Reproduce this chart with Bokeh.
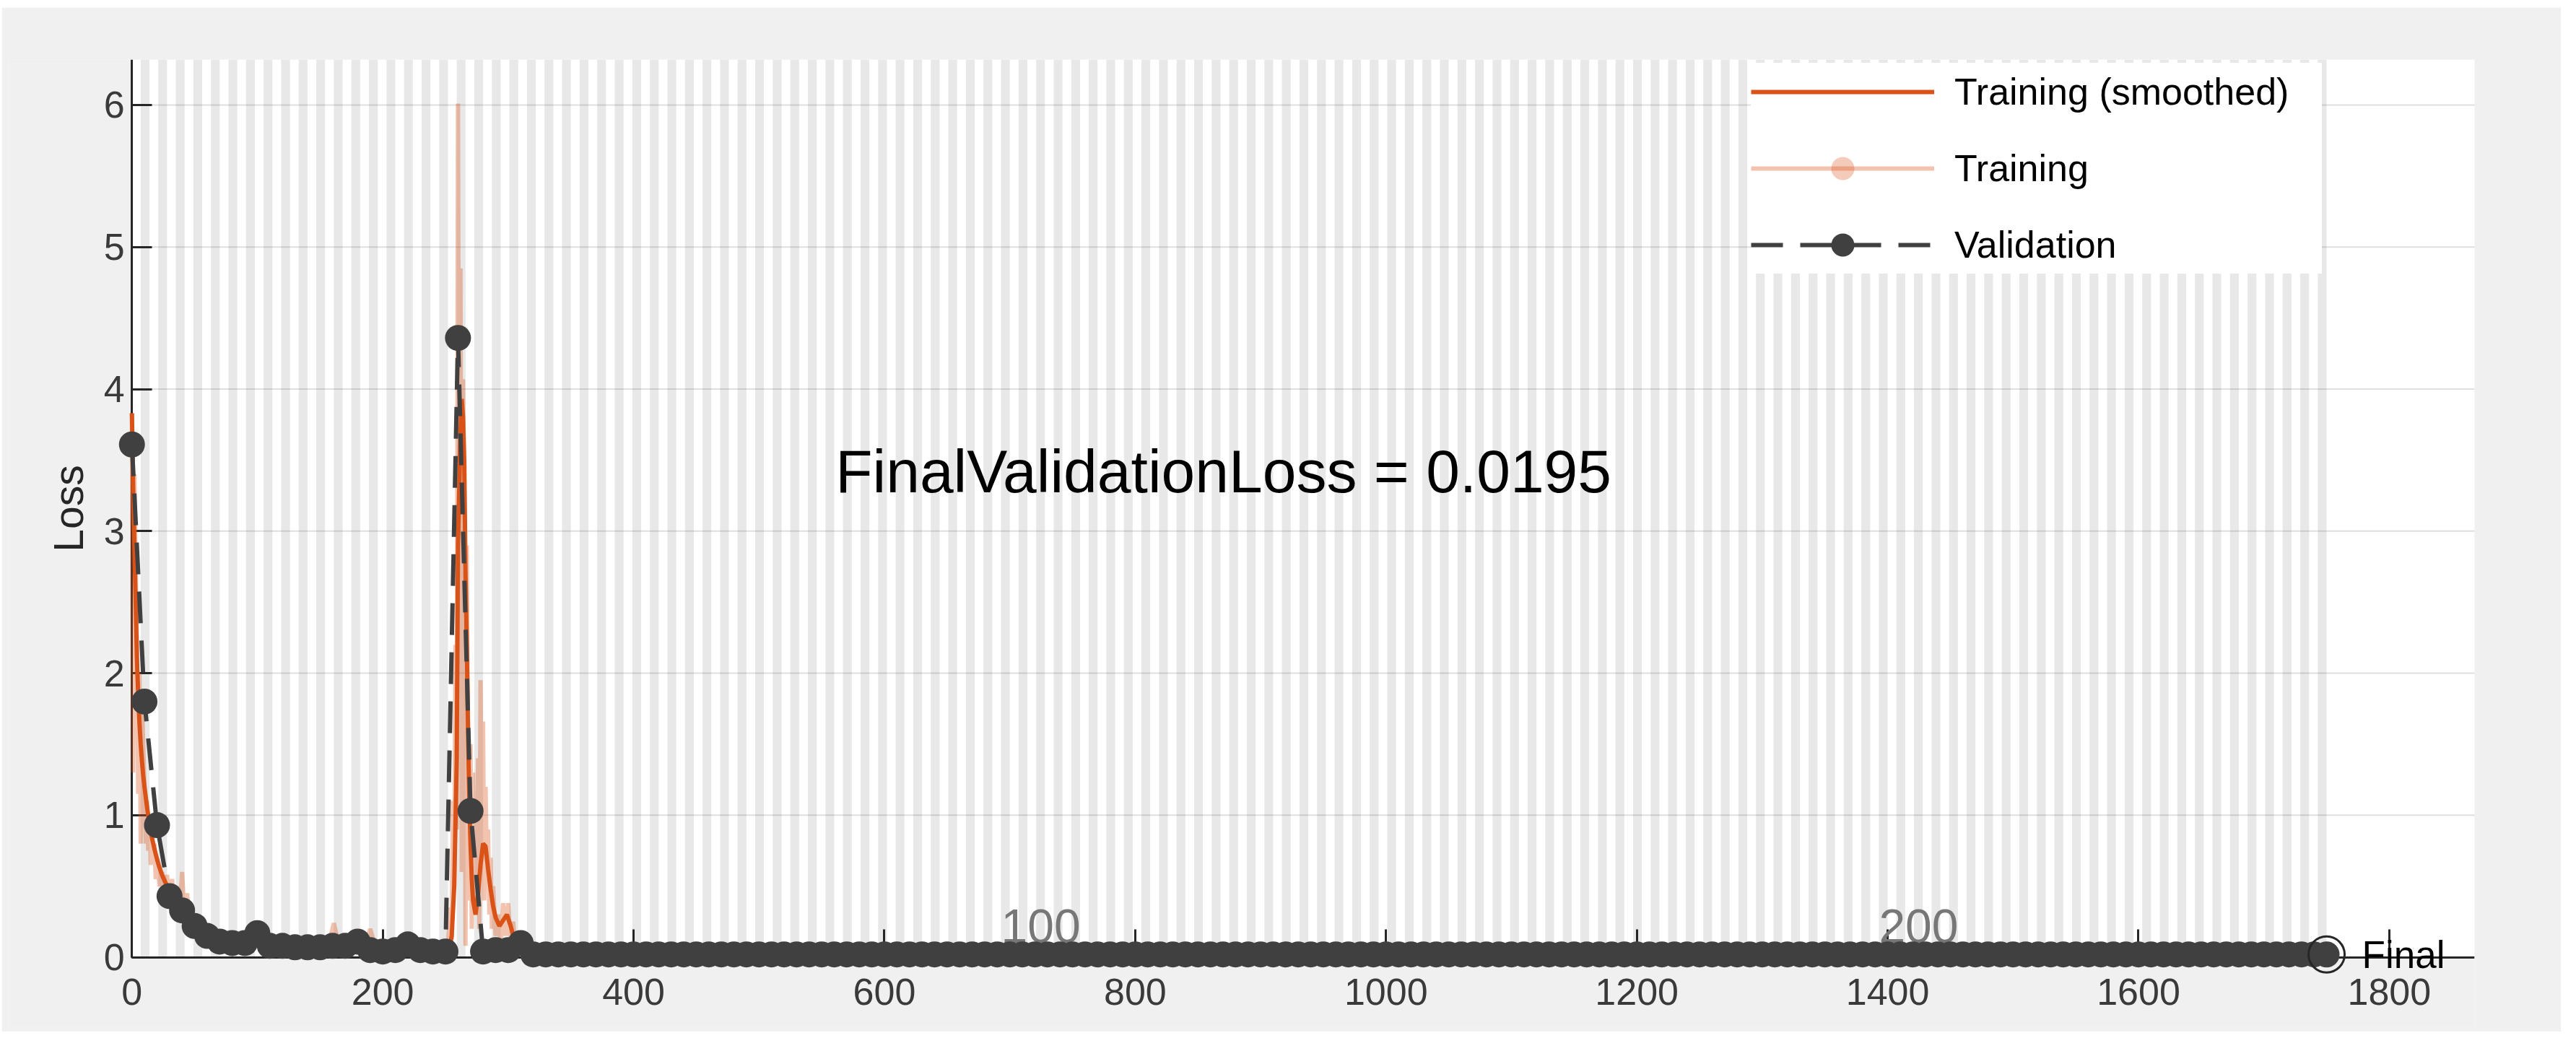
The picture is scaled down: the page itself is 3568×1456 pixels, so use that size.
from bokeh.plotting import figure
from bokeh.models import Range1d, FixedTicker, Legend, LegendItem
from bokeh.core.properties import value
from bokeh.embed import file_html
from bokeh.resources import INLINE

# ---------------- data ----------------
ITERS_PER_EPOCH = 7
NUM_EPOCHS = 250
VALIDATION_FREQUENCY = 10

# raw training loss (iteration, loss)
train_iter = [0, 1, 2, 3, 4, 5, 6, 7, 8, 9, 10, 11, 12, 13, 14, 15, 16, 17, 18, 19, 20,
              22, 24, 26, 28, 30, 32, 34, 36, 38, 40, 42, 44, 46, 48, 50, 52,
              55, 58, 62, 66, 70, 75, 80, 85, 90, 95, 100,
              110, 120, 130, 140, 150, 156, 161, 166, 175, 185, 190, 195, 205, 215, 225, 235, 245, 250,
              252, 254, 255, 256, 257, 258, 259, 260, 261, 262, 263, 264, 265, 266, 267, 268, 269, 270,
              271, 272, 273, 274, 275, 276, 277, 278, 279, 280, 281, 282, 283, 284, 285, 286, 287, 288,
              290, 292, 294, 296, 298, 300, 302, 304, 306, 308, 312, 320,
              400, 600, 800, 1000, 1200, 1400, 1600, 1750]
train_loss = [3.83, 1.30, 3.40, 2.75, 2.20, 1.15, 2.00, 0.80, 1.80, 1.50, 1.20, 0.80, 1.10, 0.75, 1.00, 0.65, 0.90, 0.70, 0.80, 0.55, 0.70,
              0.50, 0.60, 0.45, 0.58, 0.40, 0.55, 0.35, 0.50, 0.30, 0.60, 0.28, 0.45, 0.22, 0.30, 0.18, 0.28,
              0.15, 0.20, 0.12, 0.15, 0.10, 0.13, 0.08, 0.11, 0.07, 0.12, 0.08,
              0.06, 0.09, 0.05, 0.07, 0.05, 0.06, 0.24, 0.05, 0.06, 0.05, 0.20, 0.05, 0.04, 0.05, 0.04, 0.03, 0.04, 0.05,
              0.08, 0.35, 0.12, 1.10, 0.50, 2.20, 0.90, 6.01, 2.60, 4.85, 0.60, 4.07, 3.20, 0.08, 2.90, 1.60, 0.40, 1.50,
              0.20, 1.30, 0.50, 1.10, 0.30, 1.40, 0.20, 1.95, 0.90, 1.66, 0.40, 1.20, 0.60, 0.90, 0.30, 0.70, 0.20, 0.50,
              0.15, 0.30, 0.10, 0.38, 0.15, 0.38, 0.10, 0.25, 0.06, 0.04, 0.02, 0.02,
              0.01, 0.01, 0.01, 0.01, 0.01, 0.01, 0.01, 0.01]

# smoothed training loss
smooth_iter = [0, 1, 2, 3, 4, 5, 6, 7, 8, 9, 10,
               12, 14, 16, 18, 20, 22, 24,
               27, 30, 33, 36,
               40, 44, 48, 52, 56, 60,
               65, 70,
               80, 90, 100, 110, 120, 130, 140, 150, 160,
               165, 175, 190, 195, 205, 220, 235, 250,
               253, 255, 257, 259,
               260, 261, 262, 263, 264, 265, 266, 267, 268, 269, 270, 271, 272,
               274, 276, 278, 280, 282, 284, 286, 288, 290,
               293, 296, 299, 302, 305, 308,
               312, 320,
               400, 600, 800, 1000, 1200, 1400, 1600, 1750]
smooth_loss = [3.83, 3.30, 2.90, 2.50, 2.10, 1.85, 1.65, 1.50, 1.38, 1.28, 1.20,
               1.06, 0.94, 0.84, 0.76, 0.69, 0.63, 0.58,
               0.52, 0.46, 0.41, 0.37,
               0.33, 0.29, 0.25, 0.22, 0.19, 0.17,
               0.15, 0.13,
               0.11, 0.10, 0.10, 0.085, 0.08, 0.075, 0.07, 0.065, 0.09,
               0.08, 0.065, 0.09, 0.07, 0.055, 0.05, 0.045, 0.045,
               0.06, 0.15, 0.50, 1.40,
               2.90, 3.30, 3.70, 3.93, 3.80, 3.50, 2.70, 2.20, 1.60, 1.10, 0.80, 0.55, 0.40,
               0.30, 0.45, 0.65, 0.80, 0.78, 0.62, 0.48, 0.36, 0.28,
               0.22, 0.26, 0.30, 0.22, 0.12, 0.06,
               0.03, 0.02,
               0.01, 0.01, 0.01, 0.01, 0.01, 0.01, 0.01, 0.01]

# validation loss, one value every VALIDATION_FREQUENCY iterations (0 ... 1750)
val_loss = [3.61, 1.80, 0.93, 0.43, 0.33, 0.22, 0.15, 0.11, 0.10, 0.10,
            0.17, 0.08, 0.08, 0.07, 0.07, 0.07, 0.08, 0.08, 0.11, 0.05,
            0.04, 0.05, 0.09, 0.05, 0.04, 0.04, 4.36, 1.03, 0.04, 0.05,
            0.05, 0.10,
            0.02, 0.02, 0.02, 0.02, 0.02, 0.02, 0.02, 0.02, 0.02, 0.02, 0.02, 0.02, 0.02,
            0.02, 0.02, 0.02, 0.02, 0.02, 0.02, 0.02, 0.02, 0.02, 0.02, 0.02, 0.02, 0.02,
            0.02, 0.02, 0.02, 0.02, 0.02, 0.02, 0.02, 0.02, 0.02, 0.02, 0.02, 0.02, 0.02,
            0.02, 0.02, 0.02, 0.02, 0.02, 0.02, 0.02, 0.02, 0.02, 0.02, 0.02, 0.02, 0.02,
            0.02, 0.02, 0.02, 0.02, 0.02, 0.02, 0.02, 0.02, 0.02, 0.02, 0.02, 0.02, 0.02,
            0.02, 0.02, 0.02, 0.02, 0.02, 0.02, 0.02, 0.02, 0.02, 0.02, 0.02, 0.02, 0.02,
            0.02, 0.02, 0.02, 0.02, 0.02, 0.02, 0.02, 0.02, 0.02, 0.02, 0.02, 0.02, 0.02,
            0.02, 0.02, 0.02, 0.02, 0.02, 0.02, 0.02, 0.02, 0.02, 0.02, 0.02, 0.02, 0.02,
            0.02, 0.02, 0.02, 0.02, 0.02, 0.02, 0.02, 0.02, 0.02, 0.02, 0.02, 0.02, 0.02,
            0.02, 0.02, 0.02, 0.02, 0.02, 0.02, 0.02, 0.02, 0.02, 0.02, 0.02, 0.02, 0.02,
            0.02, 0.02, 0.02, 0.02, 0.02, 0.02, 0.02, 0.02, 0.02, 0.02, 0.02, 0.02, 0.02,
            0.0195]
val_iter = [i * VALIDATION_FREQUENCY for i in range(len(val_loss))]

epoch_labels = [100, 200]
x_ticks = [0, 200, 400, 600, 800, 1000, 1200, 1400, 1600, 1800]
y_ticks = [0, 1, 2, 3, 4, 5, 6]

# ---------------- layout / style constants ----------------
# the frame is extended beyond the axes so that nothing (markers, tick labels) is clipped
X_MIN, X_MAX = -98, 1868
Y_MIN, Y_MAX = -0.49, 6.32
ORANGE = "#d95319"
DARK = "#404040"
AXIS = "#262626"
FONT = "Liberation Sans"
SUMMARY_POS = (561, 3.42)
EPOCH_LABEL_Y = 0.22

p = figure(width=3545, height=1419, frame_width=3415, frame_height=1340,
           x_range=Range1d(X_MIN, X_MAX), y_range=Range1d(Y_MIN, Y_MAX),
           output_backend="svg", toolbar_location=None,
           min_border_left=10, min_border_right=120, min_border_top=72, min_border_bottom=7,
           background_fill_color="#f0f0f0", border_fill_color="#f0f0f0",
           outline_line_color=None, margin=(10, 0, 0, 2))

p.xgrid.visible = False
p.ygrid.visible = False

# axes area background, epoch stripes and horizontal grid lines
p.quad(left=[0], right=[X_MAX], bottom=[0], top=[Y_MAX], fill_color="white",
       line_color=None, level="image")
stripe_left = [e * ITERS_PER_EPOCH for e in range(1, NUM_EPOCHS, 2)]
stripe_right = [x + ITERS_PER_EPOCH for x in stripe_left]
p.quad(left=stripe_left, right=stripe_right, bottom=0, top=Y_MAX,
       fill_color="#e8e8e8", line_color=None, level="image")
p.segment(x0=0, x1=X_MAX, y0=y_ticks[1:], y1=y_ticks[1:], line_color=AXIS,
          line_alpha=0.15, line_width=2, level="image")

# epoch labels
p.text(x=[(e - 1) * ITERS_PER_EPOCH for e in epoch_labels], y=[EPOCH_LABEL_Y] * len(epoch_labels),
       text=[str(e) for e in epoch_labels], text_font=value(FONT), text_font_size="66px",
       text_color="#777777", text_align="left", text_baseline="alphabetic")

# series
raw = p.line(train_iter, train_loss, line_color=ORANGE, line_alpha=0.35, line_width=6)
raw_mark = p.scatter(train_iter, train_loss, size=0, fill_color=ORANGE, fill_alpha=0.3,
                     line_color=None)
smooth = p.line(smooth_iter, smooth_loss, line_color=ORANGE, line_width=6)
vline = p.line(val_iter, val_loss, line_color=DARK, line_width=6, line_dash="44 24")
vmark = p.scatter(val_iter, val_loss, size=36, fill_color=DARK, line_color=None)

# final marker
p.scatter([val_iter[-1]], [val_loss[-1]], size=50, fill_color=None, line_color=AXIS, line_width=3)
p.text(x=[val_iter[-1]], y=[val_loss[-1]], text=["Final"], x_offset=49,
       text_font=value(FONT), text_font_size="53px", text_color="black",
       text_align="left", text_baseline="middle")

p.text(x=[SUMMARY_POS[0]], y=[SUMMARY_POS[1]],
       text=[f"FinalValidationLoss = {val_loss[-1]:.4f}"],
       text_font=value(FONT), text_font_size="84px", text_color="black",
       text_align="left", text_baseline="middle")

# axes
for ax in (p.xaxis, p.yaxis):
    ax.fixed_location = 0
    ax.level = "underlay"
    ax.axis_line_color = AXIS
    ax.axis_line_width = 3
    ax.major_tick_line_color = AXIS
    ax.major_tick_line_width = 3
    ax.major_tick_out = 0
    ax.minor_tick_in = 0
    ax.minor_tick_out = 0
    ax.major_label_text_font = FONT
    ax.major_label_text_font_size = "52px"
    ax.major_label_text_color = "#3a3a3a"

p.xaxis.bounds = (0, X_MAX)
p.yaxis.bounds = (0, Y_MAX)
p.xaxis.ticker = FixedTicker(ticks=x_ticks)
p.yaxis.ticker = FixedTicker(ticks=y_ticks)
p.xaxis.major_tick_in = 39
p.yaxis.major_tick_in = 28
p.xaxis.major_label_standoff = 30
p.yaxis.major_label_standoff = 10
p.yaxis.axis_label = "Loss"
p.yaxis.axis_label_text_font = FONT
p.yaxis.axis_label_text_font_size = "57px"
p.yaxis.axis_label_text_font_style = "normal"
p.yaxis.axis_label_text_color = AXIS
p.yaxis.axis_label_standoff = 14

legend = Legend(items=[
    LegendItem(label="Training (smoothed)", renderers=[smooth]),
    LegendItem(label="Training", renderers=[raw, raw_mark]),
    LegendItem(label="Validation", renderers=[vline, vmark]),
], location=(2413, 1043))
legend.glyph_width = 254
legend.glyph_height = 80
legend.spacing = 26
legend.padding = 2
legend.margin = 0
legend.label_standoff = 28
legend.label_width = 509
legend.label_text_font = FONT
legend.label_text_font_size = "52px"
legend.label_text_color = "black"
legend.border_line_color = None
legend.background_fill_color = "white"
legend.background_fill_alpha = 1.0
p.add_layout(legend)

open("out.html", "w").write(file_html(p, INLINE))
